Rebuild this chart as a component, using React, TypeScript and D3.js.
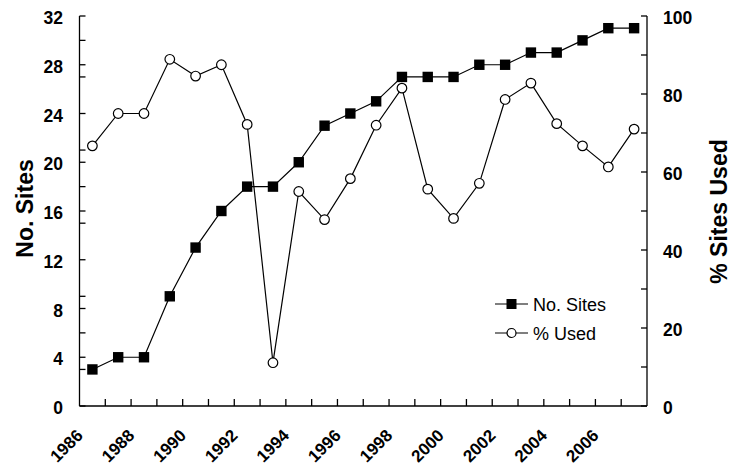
import React from "react";
import * as d3 from "d3";

const years: number[] = [1986, 1987, 1988, 1989, 1990, 1991, 1992, 1993, 1994, 1995, 1996, 1997, 1998, 1999, 2000, 2001, 2002, 2003, 2004, 2005, 2006, 2007];
const noSites: number[] = [3, 4, 4, 9, 13, 16, 18, 18, 20, 23, 24, 25, 27, 27, 27, 28, 28, 29, 29, 30, 31, 31];
const pctUsed: number[] = [66.7, 75, 75, 88.9, 84.6, 87.5, 72.2, 11.1, 55, 47.8, 58.3, 72, 81.5, 55.6, 48.1, 57.1, 78.6, 82.8, 72.4, 66.7, 61.3, 71.0];
const leftTickLabels: number[] = [0, 4, 8, 12, 16, 20, 24, 28, 32];
const leftMinorTicks: number[] = [3, 6, 9, 15, 18, 21, 27, 30];
const rightTickLabels: number[] = [0, 20, 40, 60, 80, 100];
const rightMinorTicks: number[] = [10, 30, 50, 70, 90];
const yearLabels: number[] = [1986, 1988, 1990, 1992, 1994, 1996, 1998, 2000, 2002, 2004, 2006];

const W = 743;
const H = 466;
const left = 79.5;
const right = 647;
const top = 16;
const bottom = 406;
const FONT = "'Liberation Sans', Arial, Helvetica, sans-serif";

export default function App() {
  const x = d3.scaleBand<number>().domain(years).range([left, right]).padding(0);
  const bw = x.bandwidth();
  const cx = (y: number) => (x(y) as number) + bw / 2;
  const yL = d3.scaleLinear().domain([0, 32]).range([bottom, top]);
  const yR = d3.scaleLinear().domain([0, 100]).range([bottom, top]);

  const lineL = d3.line<number>().x((_, i) => cx(years[i])).y((d) => yL(d));
  const lineR = d3.line<number>().x((_, i) => cx(years[i])).y((d) => yR(d));

  const sq = 10.4;
  const cr = 4.8;

  const leftTicks = Array.from(new Set([...leftTickLabels, ...leftMinorTicks]));
  const rightTicks = [...rightTickLabels, ...rightMinorTicks];

  return (
    <svg width={W} height={H} style={{ position: "absolute", left: 0, top: 0, background: "#fff" }} fontFamily={FONT}>
      <rect x={0} y={0} width={W} height={H} fill="#fff" />
      {/* axes lines */}
      <g stroke="#000" strokeWidth={1.3} fill="none">
        <line x1={left} x2={left} y1={top} y2={bottom} />
        <line x1={right} x2={right} y1={top} y2={bottom} />
        <line x1={left} x2={right} y1={bottom} y2={bottom} />
        {leftTicks.map((t) => (
          <line key={"lt" + t} x1={left} x2={left + 6} y1={yL(t)} y2={yL(t)} />
        ))}
        {rightTicks.map((t) => (
          <line key={"rt" + t} x1={right - 6} x2={right} y1={yR(t)} y2={yR(t)} />
        ))}
        {years.slice(1).map((yr) => (
          <line key={"bt" + yr} x1={x(yr) as number} x2={x(yr) as number} y1={bottom} y2={bottom - 7} />
        ))}
      </g>
      {/* tick labels */}
      <g fontSize={17.5} fontWeight="bold" fill="#000">
        {leftTickLabels.map((t) => (
          <text key={"ll" + t} x={63} y={yL(t) + 8} textAnchor="end">
            {t}
          </text>
        ))}
        {rightTickLabels.map((t) => (
          <text key={"rl" + t} x={663} y={yR(t) + 8} textAnchor="start">
            {t}
          </text>
        ))}
      </g>
      {yearLabels.map((yr) => (
        <text
          key={"yl" + yr}
          transform={`translate(${cx(yr) - 8.5},436.5) rotate(-45)`}
          x={0}
          y={0}
          textAnchor="end"
          fontSize={17}
          fontWeight="bold"
          fill="#000"
        >
          {String(yr)}
        </text>
      ))}
      {/* axis titles */}
      <text transform={`translate(33,208.5) rotate(-90)`} textAnchor="middle" fontSize={23} fontWeight="bold">
        No. Sites
      </text>
      <text transform={`translate(726.5,211.5) rotate(-90)`} textAnchor="middle" fontSize={23} fontWeight="bold">
        % Sites Used
      </text>
      {/* series lines */}
      <path d={lineR(pctUsed) || ""} fill="none" stroke="#000" strokeWidth={1.2} />
      <path d={lineL(noSites) || ""} fill="none" stroke="#000" strokeWidth={1.2} />
      {noSites.map((v, i) => (
        <rect key={"s" + i} x={cx(years[i]) - sq / 2} y={yL(v) - sq / 2} width={sq} height={sq} fill="#000" />
      ))}
      {pctUsed.map((v, i) => (
        <circle key={"c" + i} cx={cx(years[i])} cy={yR(v)} r={cr} fill="#fff" stroke="#000" strokeWidth={1.2} />
      ))}
      {/* legend */}
      <g>
        <line x1={495} x2={528} y1={304} y2={304} stroke="#000" strokeWidth={1.2} />
        <rect x={511.5 - 5} y={304 - 5} width={10} height={10} fill="#000" />
        <text x={533} y={310.5} fontSize={18}>No. Sites</text>
        <line x1={495} x2={528} y1={333} y2={333} stroke="#000" strokeWidth={1.2} />
        <circle cx={511.5} cy={333} r={4.5} fill="#fff" stroke="#000" strokeWidth={1.2} />
        <text x={533} y={339.5} fontSize={18}>% Used</text>
      </g>
    </svg>
  );
}
